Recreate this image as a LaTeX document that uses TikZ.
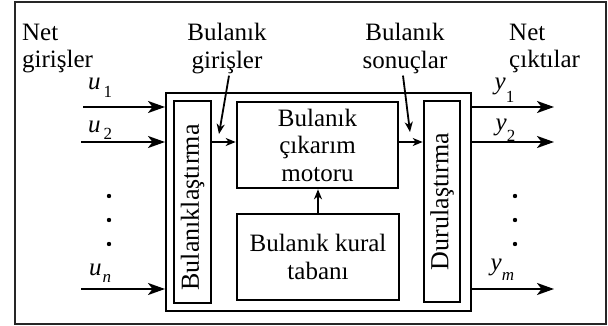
\documentclass[tikz,border=0pt]{standalone}
\usepackage{fontspec}
\setmainfont{Liberation Serif}
\usetikzlibrary{arrows.meta}
\begin{document}
\begin{tikzpicture}[x=1pt,y=-1pt,
  blk/.style={draw, line width=2.6pt, inner sep=0pt, align=center, font=\fontsize{25}{27.5}\selectfont},
  bigarr/.style={-{Stealth[length=17pt,width=12pt,inset=4.5pt]}, line width=2.4pt},
  smlarr/.style={-{Stealth[length=10pt,width=8pt,inset=3pt]}, line width=1.8pt},
  lbl/.style={font=\fontsize{25}{27.5}\selectfont, inner sep=0pt, align=center},
  sym/.style={anchor=base west, inner sep=0pt, font=\fontsize{25}{25}\selectfont\itshape},
  dot/.style={fill=black}
]
\useasboundingbox (0,0) rectangle (608,326);
\draw[line width=1.6pt, black!85] (15,2) rectangle (606,324);

% main blocks
\node[draw, line width=2pt, minimum width=305, minimum height=218, inner sep=0pt] (main) at (318.5,202) {};
\node[blk, minimum width=37, minimum height=202] (fuz) at (192.5,202)
  {\fontsize{26}{26}\selectfont\rotatebox{90}{Bulanıklaştırma\hspace{11pt}}};
\node[blk, minimum width=36, minimum height=201] (def) at (442,201.5)
  {\fontsize{26}{26}\selectfont\rotatebox{90}{Durulaştırma}};
\node[blk, minimum width=161, minimum height=86] (inf) at (317.5,145) {Bulanık\\çıkarım\\motoru};
\node[blk, minimum width=162, minimum height=86] (kb) at (318,257) {Bulanık kural\\tabanı};

% internal arrows
\draw[smlarr] (fuz.east |- 0,142) -- (inf.west |- 0,142);
\draw[smlarr] (inf.east |- 0,142) -- (def.west |- 0,142);
\draw[smlarr] (kb.north) -- (kb.north |- inf.south);

% inputs
\coordinate (i1) at (83,107);
\coordinate (i2) at (81,142);
\coordinate (in) at (81,289);
\draw[bigarr] (i1) -- (main.west |- i1);
\draw[bigarr] (i2) -- (main.west |- i2);
\draw[bigarr] (in) -- (main.west |- in);

% outputs
\coordinate (o1) at (554,107);
\coordinate (o2) at (554,142);
\coordinate (om) at (554,289);
\draw[bigarr] (main.east |- o1) -- (o1);
\draw[bigarr] (main.east |- o2) -- (o2);
\draw[bigarr] (main.east |- om) -- (om);

% signal names
\node[sym] (lu1) at (88,90) {u\kern3pt\raisebox{-8pt}{\upshape\fontsize{17}{17}\selectfont 1}};
\node[sym] (lu2) at (88,133) {u\kern3pt\raisebox{-7pt}{\upshape\fontsize{17}{17}\selectfont 2}};
\node[sym] (lun) at (89,275) {u\kern1pt\raisebox{-7pt}{\fontsize{17}{17}\selectfont n}};
\node[sym] (ly1) at (494.5,90) {y\raisebox{-13pt}{\upshape\fontsize{17}{17}\selectfont 1}};
\node[sym] (ly2) at (495.5,131) {y\raisebox{-11pt}{\upshape\fontsize{17}{17}\selectfont 2}};
\node[sym] (lym) at (490.5,270) {y\raisebox{-10pt}{\fontsize{17}{17}\selectfont m}};

% dots
\foreach \yy in {196,220,244} {
  \fill[dot] (109,\yy) circle (2.2);
  \fill[dot] (515,\yy) circle (2.2);
}

% labels
\node[lbl, anchor=north west, align=left] (ng) at (22,23.5) {Net\\girişler};
\node[lbl, anchor=north] (bg) at (227,23) {Bulanık\\girişler};
\node[lbl, anchor=north] (bs) at (405,23) {Bulanık\\sonuçlar};
\node[lbl, anchor=north west, align=left] (nc) at (509,23.5) {Net\\çıktılar};

\coordinate (ta) at (219,134);
\coordinate (tb) at (410,132);
\draw[smlarr] ([shift={(2,2)}]bg.south) -- (ta);
\draw[smlarr] ([shift={(-2,2)}]bs.south) -- (tb);
\end{tikzpicture}
\end{document}
